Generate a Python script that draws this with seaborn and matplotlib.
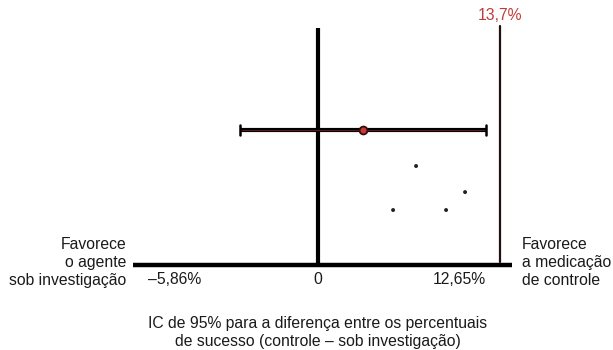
import matplotlib
matplotlib.use("Agg")
import pandas as pd
import seaborn as sns
import matplotlib.pyplot as plt

ci_low = -5.86
ci_high = 12.65
point_est = (ci_low + ci_high) / 2
margin = 13.7
tick_labels = ["\u20135,86%", "0", "12,65%"]
left_label = ["Favorece", "o agente", "sob investigação"]
right_label = ["Favorece", "a medicação", "de controle"]
caption = ["IC de 95% para a diferença entre os percentuais", "de sucesso (controle \u2013 sob investigação)"]

# stray dots in the original figure
dots_x = [7.38, 11.07, 5.65, 9.64]
dots_y = [0.733, 0.54, 0.407, 0.407]

sns.set_theme(style="white")
plt.rcParams["font.family"] = ["Liberation Sans", "DejaVu Sans"]

fig = plt.figure(figsize=(6.13, 3.5), dpi=100)
ax = fig.add_axes([0, 0, 1, 1])
ax.set_xlim(-23.95, 22.21)
ax.set_ylim(-0.63, 1.963)
ax.axis("off")

red = "#c23b3b"
ink = "#1a1a1a"

# axis and reference lines
ax.plot([-13.93, 14.61], [0, 0], color="black", lw=3.2, solid_capstyle="butt")
ax.plot([0, 0], [0, 1.756], color="black", lw=3.0, solid_capstyle="butt")
ax.plot([margin, margin], [0.02, 1.77], color="#201010", lw=1.6)

# confidence interval
ax.plot([ci_low, ci_high], [1, 1], color="black", lw=3.0, solid_capstyle="butt")
ax.plot([ci_low, ci_high], [1, 1], color="#8a2020", lw=0.5)
for x in [ci_low, ci_high]:
    ax.plot([x, x], [0.96, 1.04], color="black", lw=1.8)

pts = pd.DataFrame({"x": [point_est], "y": [1]})
sns.scatterplot(data=pts, x="x", y="y", ax=ax, s=32, color=red, edgecolor="#3a0a0a", linewidth=1.3, zorder=5)

dots = pd.DataFrame({"x": dots_x, "y": dots_y})
sns.scatterplot(data=dots, x="x", y="y", ax=ax, s=8, color="#222222", edgecolor="none")

fs = 11.3
ax.text(margin, 1.85, "13,7%", color=red, ha="center", va="center", fontsize=fs)

ax.text(-12.8, -0.11, tick_labels[0], ha="left", va="center", fontsize=fs, color=ink)
ax.text(0, -0.11, tick_labels[1], ha="center", va="center", fontsize=fs, color=ink)
ax.text(ci_high, -0.11, tick_labels[2], ha="right", va="center", fontsize=fs, color=ink)

for i, line in enumerate(left_label):
    ax.text(-14.45, 0.148 - i * 0.13, line, ha="right", va="center", fontsize=fs, color=ink)
for i, line in enumerate(right_label):
    ax.text(15.35, 0.148 - i * 0.13, line, ha="left", va="center", fontsize=fs, color=ink)

for i, line in enumerate(caption):
    ax.text(0, -0.437 - i * 0.133, line, ha="center", va="center", fontsize=fs, color=ink)

fig.savefig("out.png", dpi=100)
